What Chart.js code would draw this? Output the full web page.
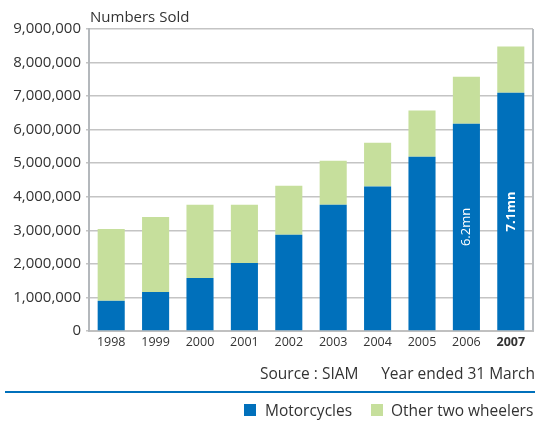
<!DOCTYPE html>
<html>
<head>
<meta charset="utf-8">
<script src="https://cdn.jsdelivr.net/npm/chart.js@4"></script>
<style>
  body { margin: 0; background: #fff; font-family: 'Open Sans', sans-serif; color: #333; }
  #wrap { position: relative; width: 535px; height: 423px; overflow: hidden; }
  #chart { position: absolute; left: 0; top: 0; }
  .txt { position: absolute; font-size: 15.5px; line-height: 20px; white-space: nowrap; }
  #rule { position: absolute; left: 5px; top: 391px; width: 530px; height: 2px; background: #0070bb; }
  .key { position: absolute; top: 404px; width: 12px; height: 12px; }
</style>
</head>
<body>
<div id="wrap">
  <canvas id="chart" width="535" height="423"></canvas>
  <div class="txt" style="left:90px; top:6px; font-size:15px;">Numbers Sold</div>
  <div class="txt" style="left:260px; top:363px;">Source : SIAM</div>
  <div class="txt" style="right:0; top:363px;">Year ended 31 March</div>
  <div id="rule"></div>
  <div id="legend"></div>
</div>
<script>
// Data (units sold)
const years = ['1998', '1999', '2000', '2001', '2002', '2003', '2004', '2005', '2006', '2007'];
const motorcycles = [900000, 1160000, 1580000, 2030000, 2870000, 3760000, 4310000, 5190000, 6180000, 7100000];
const otherTwoWheelers = [2140000, 2240000, 2180000, 1730000, 1460000, 1310000, 1300000, 1380000, 1400000, 1380000];
const barNotes = ['', '', '', '', '', '', '', '', '6.2mn', '7.1mn'];
const yTicks = [0, 1000000, 2000000, 3000000, 4000000, 5000000, 6000000, 7000000, 8000000, 9000000];

const blue = '#0070bb';
const green = '#c6df9c';

// vertical labels inside the motorcycle bars
const barNotesPlugin = {
  id: 'barNotes',
  afterDatasetsDraw(chart) {
    const ctx = chart.ctx;
    const meta = chart.getDatasetMeta(0);
    meta.data.forEach((bar, i) => {
      if (!barNotes[i]) return;
      ctx.save();
      ctx.translate(bar.x, (bar.y + bar.base) / 2);
      ctx.rotate(-Math.PI / 2);
      ctx.fillStyle = '#fff';
      ctx.font = (i === years.length - 1 ? 'bold ' : '') + '13px "Open Sans"';
      ctx.textAlign = 'center';
      ctx.textBaseline = 'middle';
      ctx.fillText(barNotes[i], 0, 0);
      ctx.restore();
    });
  }
};

// grey line on the right edge of the plot
const rightEdge = {
  id: 'rightEdge',
  afterDraw(chart) {
    const a = chart.chartArea;
    const ctx = chart.ctx;
    ctx.save();
    ctx.strokeStyle = '#b8bcc0';
    ctx.lineWidth = 2;
    ctx.beginPath();
    ctx.moveTo(a.right, a.top);
    ctx.lineTo(a.right, a.bottom);
    ctx.stroke();
    ctx.restore();
  }
};

const chart = new Chart(document.getElementById('chart'), {
  type: 'bar',
  data: {
    labels: years,
    datasets: [
      { label: 'Motorcycles', data: motorcycles, backgroundColor: blue, barPercentage: 0.61, categoryPercentage: 1 },
      { label: 'Other two wheelers', data: otherTwoWheelers, backgroundColor: green, barPercentage: 0.61, categoryPercentage: 1 }
    ]
  },
  options: {
    responsive: false,
    animation: false,
    layout: { padding: { top: 29, left: 0, right: 2, bottom: 70 } },
    plugins: { legend: { display: false }, tooltip: { enabled: false } },
    scales: {
      x: {
        stacked: true,
        grid: { display: false, drawTicks: false, tickLength: 0 },
        border: { color: '#c0c0c0', width: 2 },
        ticks: {
          color: '#333',
          padding: 4,
          font: (c) => ({ family: 'Open Sans', size: 12.5, weight: c.index === years.length - 1 ? 'bold' : 'normal' })
        },
        afterFit(scale) { scale.height = 22; }
      },
      y: {
        stacked: true,
        min: 0,
        max: 9000000,
        afterBuildTicks(scale) { scale.ticks = yTicks.map(v => ({ value: v })); },
        grid: { color: '#c4c4c4', lineWidth: 1.5, tickLength: 3 },
        border: { color: '#b4b8bc', width: 2 },
        ticks: {
          color: '#333',
          padding: 5,
          font: { family: 'Open Sans', size: 15 },
          callback: (v) => v.toLocaleString('en-US')
        },
        afterFit(scale) { scale.width = 89; }
      }
    }
  },
  plugins: [barNotesPlugin, rightEdge]
});

// legend below the rule, built from the datasets
const legend = document.getElementById('legend');
const keyPos = [[244, 265], [371, 391]];
chart.data.datasets.forEach((ds, i) => {
  const box = document.createElement('div');
  box.className = 'key';
  box.style.left = keyPos[i][0] + 'px';
  box.style.background = ds.backgroundColor;
  legend.appendChild(box);
  const label = document.createElement('div');
  label.className = 'txt';
  label.style.left = keyPos[i][1] + 'px';
  label.style.top = '400px';
  label.textContent = ds.label;
  legend.appendChild(label);
});
</script>
</body>
</html>
